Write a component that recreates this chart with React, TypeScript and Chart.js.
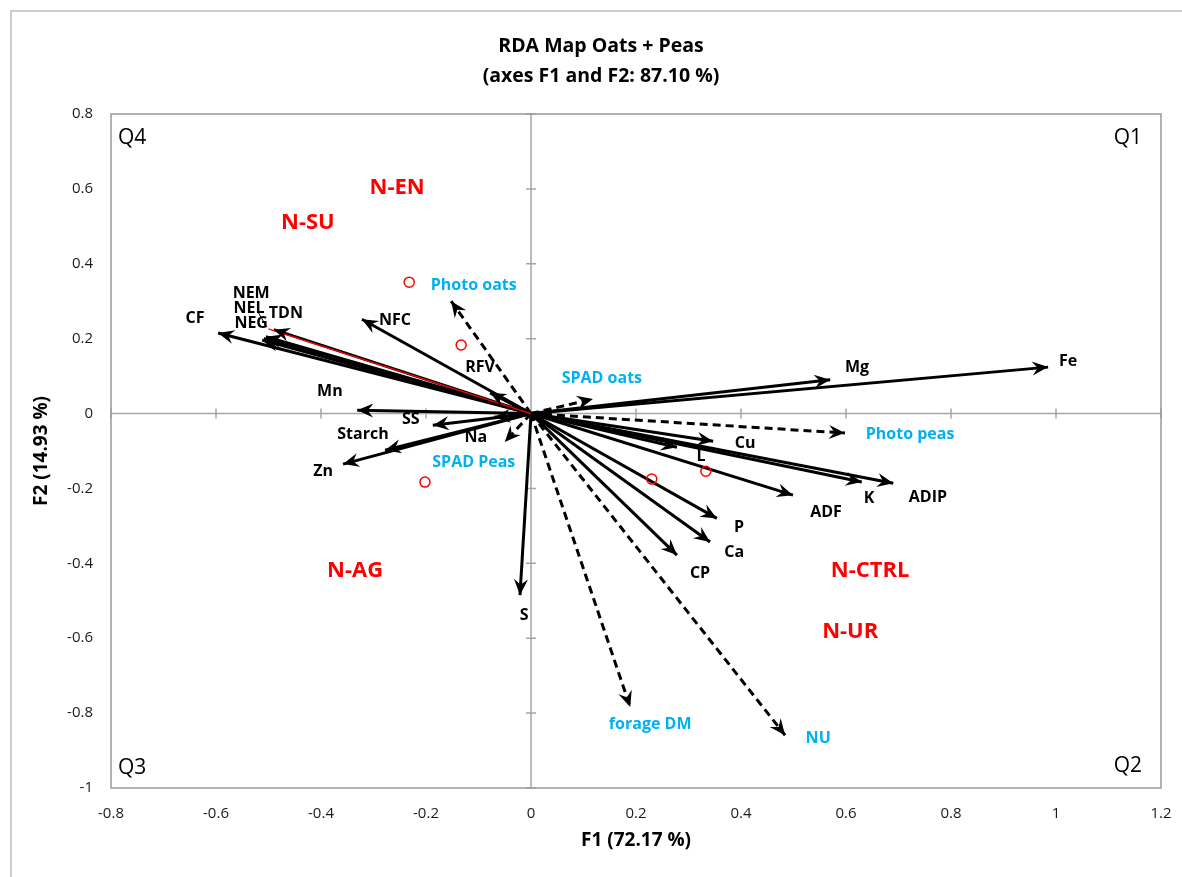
import React, { useEffect, useRef } from 'react';
import { Chart, registerables } from 'chart.js';

Chart.register(...registerables);

// ---------- data ----------
const titleLines = ['RDA Map Oats + Peas', '(axes F1 and F2: 87.10 %)'];
const xAxisTitle = 'F1 (72.17 %)';
const yAxisTitle = 'F2 (14.93 %)';
const xMin = -0.8;
const xMax = 1.2;
const yMin = -1;
const yMax = 0.8;
const tickStep = 0.2;

// active variables (solid arrows)
const variableNames = ['Fe', 'Mg', 'Cu', 'L', 'ADF', 'K', 'ADIP', 'P', 'Ca', 'CP', 'S', 'SS', 'Na', 'Starch', 'Zn', 'Mn', 'CF', 'TDN', 'NEM', 'NEL', 'NEG', 'NFC', 'RFV'];
const variableF1 = [0.985, 0.570, 0.347, 0.278, 0.499, 0.630, 0.690, 0.354, 0.341, 0.278, -0.021, -0.187, -0.070, -0.278, -0.358, -0.331, -0.596, -0.490, -0.505, -0.509, -0.512, -0.322, -0.078];
const variableF2 = [0.124, 0.090, -0.074, -0.090, -0.218, -0.183, -0.186, -0.280, -0.343, -0.378, -0.485, -0.031, -0.010, -0.098, -0.135, 0.009, 0.215, 0.224, 0.205, 0.200, 0.196, 0.252, 0.055];
const variableLabelF1 = [1.023, 0.621, 0.408, 0.324, 0.562, 0.644, 0.756, 0.396, 0.387, 0.322, -0.013, -0.229, -0.105, -0.320, -0.396, -0.383, -0.640, -0.467, -0.533, -0.537, -0.533, -0.259, -0.097];
const variableLabelF2 = [0.140, 0.122, -0.079, -0.114, -0.263, -0.226, -0.223, -0.303, -0.370, -0.428, -0.538, -0.017, -0.063, -0.057, -0.154, 0.060, 0.255, 0.268, 0.322, 0.282, 0.242, 0.250, 0.124];

// supplementary variables (dashed arrows)
const suppNames = ['Photo oats', 'SPAD oats', 'Photo peas', 'NU', 'forage DM', 'SPAD Peas'];
const suppF1 = [-0.152, 0.118, 0.598, 0.484, 0.189, -0.050];
const suppF2 = [0.300, 0.039, -0.052, -0.859, -0.784, -0.076];
const suppLabelF1 = [-0.109, 0.135, 0.722, 0.547, 0.227, -0.109];
const suppLabelF2 = [0.343, 0.095, -0.055, -0.867, -0.829, -0.130];

// observations (hollow red circles)
const obsF1 = [-0.232, -0.133, -0.202, 0.230, 0.333];
const obsF2 = [0.351, 0.183, -0.183, -0.175, -0.154];

// treatment labels
const groupNames = ['N-EN', 'N-SU', 'N-AG', 'N-CTRL', 'N-UR'];
const groupF1 = [-0.255, -0.425, -0.335, 0.646, 0.608];
const groupF2 = [0.602, 0.510, -0.421, -0.421, -0.584];

// thin red line in the NE cluster and the NEL leader line
const redLineF1 = [0, -0.500];
const redLineF2 = [0, 0.226];
const leaderF1 = [-0.520, -0.503];
const leaderF2 = [0.271, 0.231];

const quadrantNames = ['Q1', 'Q2', 'Q3', 'Q4'];

// ---------- styles ----------
const FONT = '"Open Sans", "Liberation Sans", sans-serif';
const BLUE = '#00B0F0';
const RED = '#FF0000';

const fmt = (v: number) => String(Math.round(v * 10) / 10);

const arrowPlugin = {
  id: 'arrowHeads',
  afterDatasetsDraw(chart: any) {
    const ctx = chart.ctx;
    chart.data.datasets.forEach((ds: any, i: number) => {
      if (!ds.arrow) return;
      const meta = chart.getDatasetMeta(i);
      const p0 = meta.data[0];
      const p1 = meta.data[1];
      if (!p0 || !p1) return;
      const ang = Math.atan2(p1.y - p0.y, p1.x - p0.x);
      const L = 16, W = 7, N = 5.5;
      ctx.save();
      ctx.translate(p1.x, p1.y);
      ctx.rotate(ang);
      ctx.beginPath();
      ctx.moveTo(0, 0);
      ctx.lineTo(-L, -W);
      ctx.lineTo(-L + N, 0);
      ctx.lineTo(-L, W);
      ctx.closePath();
      ctx.fillStyle = '#000';
      ctx.fill();
      ctx.restore();
    });
  },
};

const framePlugin = {
  id: 'frame',
  beforeDraw(chart: any) {
    const ctx = chart.ctx;
    ctx.save();
    ctx.fillStyle = '#fff';
    ctx.fillRect(0, 0, chart.width, chart.height);
    ctx.strokeStyle = '#bfbfbf';
    ctx.lineWidth = 1.5;
    ctx.beginPath();
    ctx.moveTo(11, chart.height);
    ctx.lineTo(11, 11);
    ctx.lineTo(chart.width, 11);
    ctx.stroke();
    ctx.restore();
  },
  beforeDatasetsDraw(chart: any) {
    const ctx = chart.ctx;
    const { left, right, top, bottom } = chart.chartArea;
    const xs = chart.scales.x;
    const ys = chart.scales.y;
    const x0 = xs.getPixelForValue(0);
    const y0 = ys.getPixelForValue(0);
    ctx.save();
    ctx.strokeStyle = '#a6a6a6';
    ctx.lineWidth = 1.5;
    ctx.beginPath();
    ctx.moveTo(left, y0);
    ctx.lineTo(right, y0);
    ctx.moveTo(x0, top);
    ctx.lineTo(x0, bottom);
    xs.ticks.forEach((t: any) => {
      const px = xs.getPixelForValue(t.value);
      ctx.moveTo(px, y0 - 5);
      ctx.lineTo(px, y0 + 5);
    });
    ys.ticks.forEach((t: any) => {
      const py = ys.getPixelForValue(t.value);
      ctx.moveTo(x0 - 5, py);
      ctx.lineTo(x0 + 5, py);
    });
    ctx.stroke();
    ctx.strokeStyle = '#999999';
    ctx.lineWidth = 1.5;
    ctx.strokeRect(left, top, right - left, bottom - top);
    ctx.restore();
  },
};

const textPlugin = {
  id: 'texts',
  afterDatasetsDraw(chart: any) {
    const ctx = chart.ctx;
    const xs = chart.scales.x;
    const ys = chart.scales.y;
    const { left, right, top, bottom } = chart.chartArea;
    ctx.save();
    ctx.textAlign = 'center';
    ctx.textBaseline = 'middle';

    // title
    ctx.fillStyle = '#000';
    ctx.font = `bold 19.5px ${FONT}`;
    ctx.fillText(titleLines[0], 601, 46);
    ctx.fillText(titleLines[1], 601, 76);

    // variable labels
    ctx.font = `bold 16px ${FONT}`;
    ctx.fillStyle = '#000';
    variableNames.forEach((n, i) => {
      ctx.fillText(n, xs.getPixelForValue(variableLabelF1[i]), ys.getPixelForValue(variableLabelF2[i]));
    });

    // supplementary labels
    ctx.fillStyle = BLUE;
    suppNames.forEach((n, i) => {
      ctx.fillText(n, xs.getPixelForValue(suppLabelF1[i]), ys.getPixelForValue(suppLabelF2[i]));
    });

    // group labels
    ctx.fillStyle = RED;
    ctx.font = `bold 22px ${FONT}`;
    groupNames.forEach((n, i) => {
      ctx.fillText(n, xs.getPixelForValue(groupF1[i]), ys.getPixelForValue(groupF2[i]));
    });

    // quadrant labels
    ctx.fillStyle = '#000';
    ctx.font = `21px ${FONT}`;
    ctx.textAlign = 'right';
    ctx.fillText(quadrantNames[0], right - 19, top + 24);
    ctx.fillText(quadrantNames[1], right - 19, bottom - 22);
    ctx.textAlign = 'left';
    ctx.fillText(quadrantNames[2], left + 7, bottom - 20);
    ctx.fillText(quadrantNames[3], left + 7, top + 24);
    ctx.restore();
  },
};

export default function App() {
  const ref = useRef<HTMLCanvasElement>(null);

  useEffect(() => {
    if (!ref.current) return;
    const datasets: any[] = [];

    datasets.push({
      data: redLineF1.map((x, i) => ({ x, y: redLineF2[i] })),
      showLine: true,
      borderColor: RED,
      borderWidth: 1.2,
      pointRadius: 0,
      order: 0,
    });
    datasets.push({
      data: leaderF1.map((x, i) => ({ x, y: leaderF2[i] })),
      showLine: true,
      borderColor: '#000',
      borderWidth: 1,
      pointRadius: 0,
      order: 0,
    });

    variableNames.forEach((n, i) => {
      datasets.push({
        label: n,
        data: [{ x: 0, y: 0 }, { x: variableF1[i], y: variableF2[i] }],
        showLine: true,
        borderColor: '#000',
        borderWidth: 3,
        pointRadius: 0,
        arrow: true,
        order: 2,
      });
    });
    suppNames.forEach((n, i) => {
      datasets.push({
        label: n,
        data: [{ x: 0, y: 0 }, { x: suppF1[i], y: suppF2[i] }],
        showLine: true,
        borderColor: '#000',
        borderWidth: 3,
        borderDash: [8, 5],
        pointRadius: 0,
        arrow: true,
        order: 2,
      });
    });
    datasets.push({
      label: 'Observations',
      data: obsF1.map((x, i) => ({ x, y: obsF2[i] })),
      showLine: false,
      pointRadius: 5,
      pointBorderWidth: 1.5,
      pointBorderColor: RED,
      pointBackgroundColor: 'rgba(255,255,255,0)',
      order: 1,
    });

    const chart = new Chart(ref.current, {
      type: 'scatter',
      data: { datasets },
      options: {
        animation: false,
        responsive: false,
        devicePixelRatio: 1,
        layout: { padding: { top: 114, right: 21, bottom: 0, left: 0 } },
        plugins: {
          legend: { display: false },
          tooltip: { enabled: false },
          title: { display: false },
        },
        scales: {
          x: {
            type: 'linear',
            position: 'bottom',
            min: xMin,
            max: xMax,
            afterFit: (s: any) => { s.height = 89; s.paddingLeft = 0; s.paddingRight = 0; },
            grid: { display: false, drawTicks: false },
            border: { display: false },
            ticks: {
              stepSize: tickStep,
              padding: 17,
              color: '#1a1a1a',
              font: { family: FONT, size: 15 },
              callback: (v: any) => fmt(Number(v)),
            },
            title: {
              display: true,
              text: xAxisTitle,
              color: '#000',
              font: { family: FONT, size: 19, weight: 'bold' },
              padding: { top: 0, bottom: 25 },
            },
          },
          y: {
            type: 'linear',
            position: 'left',
            min: yMin,
            max: yMax,
            afterFit: (s: any) => { s.width = 111; s.paddingTop = 0; s.paddingBottom = 0; },
            grid: { display: false, drawTicks: false },
            border: { display: false },
            ticks: {
              stepSize: tickStep,
              padding: 18,
              color: '#1a1a1a',
              font: { family: FONT, size: 15 },
              callback: (v: any) => fmt(Number(v)),
            },
            title: {
              display: true,
              text: yAxisTitle,
              color: '#000',
              font: { family: FONT, size: 19, weight: 'bold' },
              padding: { top: 30, bottom: 0 },
            },
          },
        },
      } as any,
      plugins: [framePlugin, arrowPlugin, textPlugin],
    });
    return () => chart.destroy();
  }, []);

  return (
    <div style={{ position: 'fixed', left: 0, top: 0, width: 1182, height: 877, background: '#fff' }}>
      <canvas ref={ref} width={1182} height={877} style={{ display: 'block', width: 1182, height: 877 }} />
    </div>
  );
}
